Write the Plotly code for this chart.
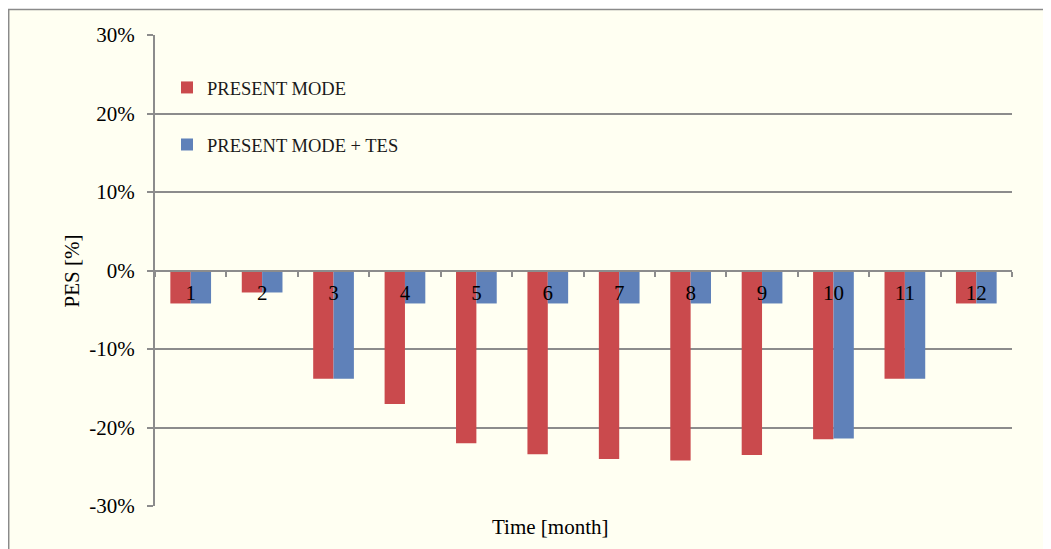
import plotly.graph_objects as go

months = ["1", "2", "3", "4", "5", "6", "7", "8", "9", "10", "11", "12"]
present_mode = [-4.2, -2.8, -13.8, -17.0, -22.0, -23.4, -24.0, -24.2, -23.5, -21.5, -13.8, -4.2]
present_mode_tes = [-4.2, -2.8, -13.8, -4.2, -4.2, -4.2, -4.2, -4.2, -4.2, -21.4, -13.8, -4.2]
y_ticks = [-30, -20, -10, 0, 10, 20, 30]
y_tick_labels = ["-30%", "-20%", "-10%", "0%", "10%", "20%", "30%"]

FONT = "Liberation Serif"
GRID = "#8C8C8C"
CREAM = "#FFFFF2"

fig = go.Figure()
fig.add_trace(go.Bar(x=months, y=present_mode, name="PRESENT MODE",
                     marker=dict(color="#CA4A4D", line=dict(width=0)),
                     legendgroup="a"))
fig.add_trace(go.Bar(x=months, y=present_mode_tes, name="PRESENT MODE + TES",
                     marker=dict(color="#5F81B9", line=dict(width=0)),
                     legendgroup="b"))

fig.update_layout(
    width=1043, height=541,
    margin=dict(l=147, r=39, t=27, b=43),
    paper_bgcolor="white",
    plot_bgcolor=CREAM,
    barmode="group", bargap=0.43, bargroupgap=0,
    font=dict(family=FONT, size=21, color="black"),
    showlegend=True,
    legend=dict(x=0.014, y=0.928, xanchor="left", yanchor="top",
                bgcolor="rgba(0,0,0,0)", font=dict(family=FONT, size=18.5, color="#1a1a1a"),
                traceorder="grouped", tracegroupgap=30),
    xaxis=dict(type="category", anchor="free", position=0.5,
               showline=True, linecolor=GRID, linewidth=2,
               ticks="outside", tickson="boundaries", ticklen=5, tickwidth=1.5, tickcolor=GRID,
               ticklabelstandoff=3,
               showgrid=False, zeroline=False,
               tickfont=dict(family=FONT, size=21, color="black")),
    yaxis=dict(range=[-30, 30], tickvals=y_ticks, ticktext=y_tick_labels,
               showline=True, linecolor=GRID, linewidth=2,
               ticks="outside", ticklen=6, tickwidth=1.5, tickcolor=GRID,
               ticklabelstandoff=8,
               showgrid=True, gridcolor=GRID, gridwidth=2, zeroline=False,
               tickfont=dict(family=FONT, size=21, color="black")),
    shapes=[dict(type="rect", xref="paper", yref="paper",
                 x0=-0.1707, x1=1.2, y0=-0.3, y1=1.0541,
                 line=dict(color="#8A8A8A", width=1.5), fillcolor=CREAM, layer="below")],
    annotations=[
        dict(text="Time [month]", xref="paper", yref="paper", x=0.461, y=-0.0446,
             xanchor="center", yanchor="middle", showarrow=False,
             font=dict(family=FONT, size=21, color="black")),
        dict(text="PES [%]", xref="paper", yref="paper", x=-0.0969, y=0.5,
             xanchor="center", yanchor="middle", showarrow=False, textangle=-90,
             font=dict(family=FONT, size=21, color="black")),
    ],
)

fig.write_html("out.html")
